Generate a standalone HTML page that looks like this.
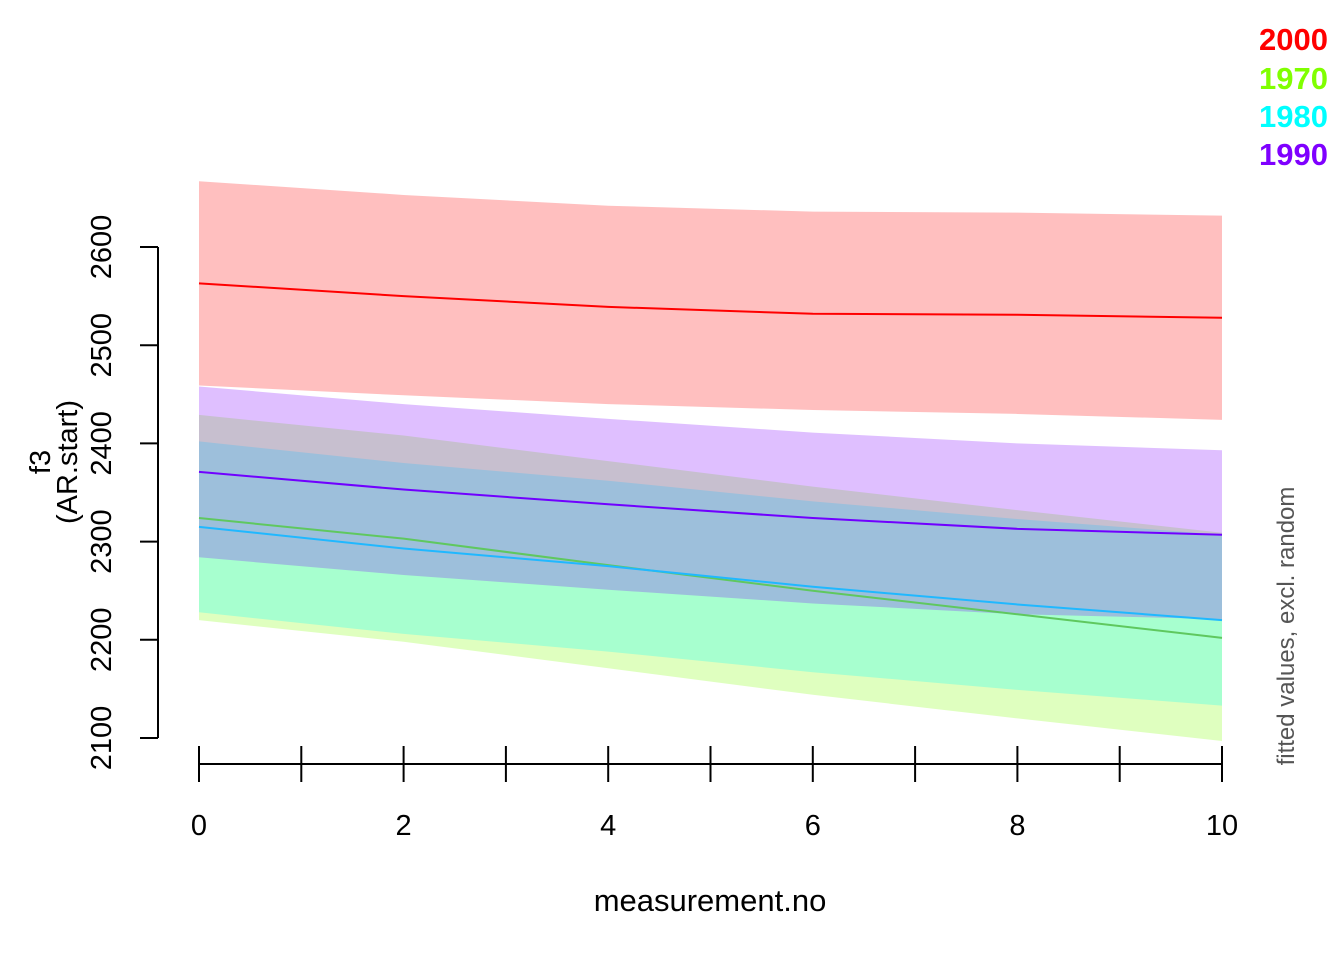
<!DOCTYPE html>
<html><head><meta charset="utf-8">
<style>
html,body{margin:0;padding:0;background:#fff;}
svg{display:block;font-family:"Liberation Sans",Arial,sans-serif;}
</style></head>
<body>
<svg id="chart" width="1344" height="960"></svg>
<script>
const xs = [0,2,4,6,8,10];
const redMean = [2563,2550,2539,2532,2531,2528];
const redUp = [2667,2653,2642,2636,2635,2632];
const redLo = [2459,2449,2440,2434,2430,2424];
const purMean = [2371,2353,2338,2324,2313,2307];
const purUp = [2458,2440,2425,2411,2400,2393];
const purLo = [2284,2266,2251,2237,2226,2221];
const grnMean = [2324,2303,2276,2250,2226,2202];
const grnUp = [2429,2408,2382,2356,2332,2309];
const grnLo = [2220,2198,2171,2144,2120,2097];
const cyaMean = [2315,2293,2275,2254,2236,2220];
const cyaUp = [2402,2380,2362,2341,2323,2307];
const cyaLo = [2228,2206,2188,2167,2149,2133];
const yTicks = [2100,2200,2300,2400,2500,2600];
const xTicks = [0,2,4,6,8,10];

const NS="http://www.w3.org/2000/svg";
const svg=document.getElementById('chart');
const X=v=>199+v*102.3;
const Y=v=>738-(v-2100)*0.982;
function el(t,a,p){const e=document.createElementNS(NS,t);for(const k in a)e.setAttribute(k,a[k]);(p||svg).appendChild(e);return e;}
function band(up,lo,fill,name){
  let d='M'+xs.map((x,i)=>X(x)+','+Y(up[i])).join(' L');
  d+=' L'+xs.slice().reverse().map((x,j)=>{const i=xs.length-1-j;return X(x)+','+Y(lo[i]);}).join(' L')+' Z';
  const p=el('path',{d:d,fill:fill,'fill-opacity':0.25,stroke:'none'});
  
  
}
function line(m,col,name){
  const p=el('polyline',{points:xs.map((x,i)=>X(x)+','+Y(m[i])).join(' '),fill:'none',stroke:col,'stroke-width':2});
  
  
}
band(grnUp,grnLo,'#80ff00','band-1970');
band(cyaUp,cyaLo,'#00ffff','band-1980');
band(purUp,purLo,'#7f00ff','band-1990');
band(redUp,redLo,'#ff0000','band-2000');
line(redMean,'#ff0000','line-2000');
line(grnMean,'#5fc85f','line-1970');
line(cyaMean,'#20b8ff','line-1980');
line(purMean,'#7000ff','line-1990');

const ya=el('g',{});


el('line',{x1:158,x2:158,y1:Y(2100),y2:Y(2600),stroke:'#000','stroke-width':2},ya);
yTicks.forEach(v=>{
  el('line',{x1:140,x2:158,y1:Y(v),y2:Y(v),stroke:'#000','stroke-width':2},ya);
  const t=el('text',{x:111,y:Y(v),transform:`rotate(-90 111 ${Y(v)})`,'text-anchor':'middle','font-size':29},ya);
  t.textContent=v;
  
  
});
const xa=el('g',{});


el('line',{x1:X(0),x2:X(10),y1:764,y2:764,stroke:'#000','stroke-width':2},xa);
for(let i=0;i<=10;i++){
  el('line',{x1:X(i),x2:X(i),y1:746,y2:782,stroke:'#000','stroke-width':2},xa);
}
xTicks.forEach(v=>{
  const t=el('text',{x:X(v),y:835,'text-anchor':'middle','font-size':29},xa);
  t.textContent=v;
  
  
});
</script>
<div style="position:absolute;left:0;top:0;width:1344px;height:960px;pointer-events:none">
<svg width="1344" height="960" style="position:absolute;left:0;top:0">
<text x="710" y="911" text-anchor="middle" font-size="31">measurement.no</text>
<text transform="rotate(-90 50 462)" x="50" y="462" text-anchor="middle" font-size="29">f3</text>
<text transform="rotate(-90 77 462)" x="77" y="462" text-anchor="middle" font-size="29">(AR.start)</text>
<text transform="rotate(-90 1294 626)" x="1294" y="626" text-anchor="middle" font-size="24" fill="#555">fitted values, excl. random</text>
<g font-weight="bold" font-size="31" text-anchor="end">
<text x="1328" y="50" fill="#ff0000">2000</text>
<text x="1328" y="89" fill="#80ff00">1970</text>
<text x="1328" y="127" fill="#00ffff">1980</text>
<text x="1328" y="165" fill="#7f00ff">1990</text>
</g>
</svg></div>
</body></html>
